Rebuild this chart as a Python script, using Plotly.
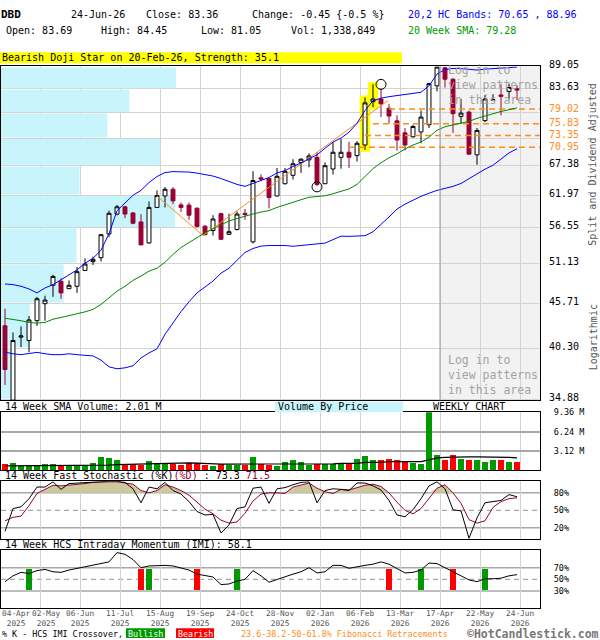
import math
import plotly.graph_objects as go

FONT = "DejaVu Sans Mono"

# ---------------- data (weekly, index 0 = week ending 04-Apr-2025) ----------------
weeks = list(range(65))

opens = [42.91, 34.80, 41.55, 41.16, 43.52, 45.66, 48.09, 48.63, 47.63, 47.96,
         50.15, 51.41, 51.98, 55.57, 58.78, 59.99, 58.95, 57.49, 54.19, 59.89,
         61.85, 63.03, 60.32, 60.28, 59.77, 56.80, 56.12, 58.85, 55.52, 56.28,
         58.90, 54.35, 65.10, 64.97, 61.85, 64.02, 65.56, 67.98, 68.48, 68.97,
         64.02, 66.74, 68.97, 69.96, 69.30, 71.41, 80.69, 81.29, 79.19, 76.44,
         73.89, 73.08, 74.09, 75.59, 84.36, 88.75, 85.94, 77.40, 78.34, 69.46,
         76.48, 81.00, 82.21, 83.05, 83.69]
highs = [45.02, 42.11, 42.83, 44.09, 46.55, 46.71, 49.53, 49.03, 48.76, 50.63,
         51.88, 52.13, 55.46, 59.33, 60.32, 60.16, 59.12, 58.78, 60.90, 62.83,
         63.42, 63.42, 60.73, 60.73, 59.84, 57.00, 58.59, 59.00, 58.85, 59.23,
         59.61, 66.30, 65.74, 64.97, 66.93, 66.93, 68.60, 68.80, 69.73, 69.96,
         67.98, 71.95, 72.61, 72.07, 72.21, 81.66, 84.76, 83.72, 80.18, 77.63,
         74.90, 75.59, 78.70, 85.00, 89.05, 88.93, 86.20, 81.29, 78.70, 74.90,
         82.21, 82.40, 84.76, 84.90, 84.45]
lows = [36.32, 34.78, 40.40, 39.83, 42.89, 43.52, 46.55, 46.30, 47.59, 47.07,
        50.07, 50.92, 51.41, 55.11, 58.59, 58.10, 57.12, 53.86, 54.07, 59.86,
        59.89, 60.44, 59.10, 57.84, 56.63, 55.35, 55.34, 54.70, 55.45, 56.12,
        57.84, 54.10, 64.49, 59.73, 61.80, 63.90, 64.79, 66.01, 67.06, 63.60,
        64.00, 65.69, 66.80, 66.93, 68.16, 70.43, 79.43, 77.25, 75.85, 70.29,
        70.29, 72.90, 71.75, 74.90, 83.05, 83.96, 73.87, 75.76, 69.50, 67.54,
        76.20, 80.90, 77.63, 81.20, 81.05]
closes = [37.93, 41.16, 41.70, 43.62, 46.30, 46.13, 49.31, 47.07, 48.09, 49.97,
          51.06, 51.74, 55.46, 58.90, 59.99, 58.78, 57.28, 53.89, 59.89, 61.92,
          63.03, 61.00, 59.89, 58.59, 56.75, 55.46, 57.97, 54.74, 55.93, 58.78,
          58.70, 64.61, 64.87, 61.58, 65.38, 66.30, 67.73, 68.60, 69.24, 63.90,
          67.36, 69.96, 69.96, 68.97, 71.75, 80.40, 81.29, 80.18, 77.47, 72.41,
          71.41, 75.24, 77.25, 84.90, 88.93, 85.94, 77.99, 78.12, 69.59, 74.40,
          81.29, 81.10, 81.90, 83.96, 83.36]

upper_band = [48.27, 48.18, 47.96, 47.60, 47.07, 47.73, 48.18, 48.84, 49.53, 50.22,
              51.17, 51.88, 53.09, 55.61, 59.33, 60.72, 61.98, 62.84, 64.25, 65.33,
              66.07, 66.25, 66.25, 66.16, 65.97, 65.69, 65.42, 64.97, 64.43, 63.90,
              63.55, 64.07, 64.61, 65.15, 66.01, 66.42, 67.22, 67.86, 68.68, 69.45,
              70.75, 72.00, 72.81, 74.04, 75.91, 78.69, 80.91, 81.47, 81.82, 82.04,
              82.27, 82.50, 82.84, 84.36, 87.21, 88.31, 88.61, 88.56, 88.31, 88.19,
              88.43, 88.61, 88.68, 88.80, 88.96]
lower_band = [39.84, 39.65, 39.55, 39.65, 39.81, 39.65, 39.55, 39.55, 39.65, 39.55,
              39.48, 39.41, 38.94, 38.22, 38.01, 38.11, 38.33, 39.19, 39.74, 40.21,
              41.89, 43.31, 44.65, 45.91, 47.07, 47.86, 48.67, 49.76, 50.46, 51.60,
              52.75, 53.34, 53.71, 53.79, 53.83, 53.79, 53.68, 53.79, 53.83, 53.94,
              54.16, 54.69, 55.23, 55.20, 55.23, 55.30, 55.92, 57.02, 58.30, 59.61,
              60.44, 61.11, 61.80, 62.33, 62.84, 63.19, 63.55, 64.07, 64.97, 65.88,
              66.71, 67.45, 68.68, 69.83, 70.65]
sma20 = [43.83, 43.71, 43.52, 43.31, 43.23, 43.31, 43.71, 43.92, 44.13, 44.32,
         44.62, 44.94, 45.57, 46.42, 47.30, 47.96, 48.76, 49.35, 50.04, 50.46,
         51.31, 52.46, 53.49, 54.24, 55.00, 55.76, 56.39, 57.02, 57.65, 58.05,
         58.46, 58.79, 59.11, 59.36, 59.89, 60.36, 60.78, 61.20, 61.63, 61.72,
         61.89, 62.24, 62.67, 63.10, 63.90, 65.33, 66.80, 67.93, 68.88, 69.65,
         70.62, 71.41, 72.00, 73.01, 74.44, 75.18, 75.59, 75.91, 76.33, 76.97,
         77.39, 77.98, 78.48, 78.92, 79.28]

volume_m = [0.95, 1.16, 0.68, 0.68, 0.68, 0.95, 0.95, 0.68, 0.68, 0.68,
            0.68, 1.16, 2.10, 1.89, 1.58, 1.05, 1.05, 0.84, 1.42, 1.10,
            1.10, 0.95, 0.84, 1.16, 1.16, 0.84, 0.74, 1.05, 0.79, 0.79,
            0.89, 2.05, 1.05, 0.89, 0.63, 1.26, 1.58, 1.26, 0.79, 1.05,
            1.05, 1.05, 1.05, 1.05, 1.73, 2.21, 1.58, 1.58, 1.73, 1.58,
            1.50, 1.10, 0.95, 9.36, 2.37, 1.63, 2.37, 1.73, 1.58, 1.58,
            1.31, 1.58, 1.58, 1.31, 1.34]
vol_sma14_m = [0.74, 0.74, 0.74, 0.74, 0.74, 0.74, 0.74, 0.74, 0.74, 0.74,
               0.74, 0.74, 0.80, 0.85, 0.92, 0.95, 1.00, 1.05, 1.10, 1.15,
               1.20, 1.20, 1.20, 1.20, 1.18, 1.10, 1.05, 1.02, 1.02, 1.02,
               1.02, 1.02, 1.02, 0.97, 0.97, 0.97, 0.97, 0.97, 1.05, 1.05,
               1.05, 1.05, 1.12, 1.12, 1.12, 1.28, 1.28, 1.28, 1.42, 1.42,
               1.42, 1.42, 1.42, 1.68, 2.00, 2.10, 2.16, 2.16, 2.16, 2.16,
               2.16, 2.16, 2.16, 2.10, 2.01]

stoch_k = [14, 53, 56, 70, 90, 90, 99, 86, 96, 97,
           97, 99, 100, 100, 100, 98, 87, 63, 90, 87,
           98, 84, 78, 65, 48, 42, 43, 11, 25, 53,
           56, 88, 90, 62, 87, 89, 94, 98, 99, 63,
           84, 87, 86, 84, 97, 97, 92, 85, 67, 42,
           39, 51, 70, 92, 99, 87, 51, 49, 2, 37,
           63, 65, 67, 77, 73.3]
stoch_d = [32, 38, 40, 58, 79, 86, 93, 92, 93, 94,
           96, 98, 99, 99, 99, 97, 95, 84, 80, 84,
           94, 90, 84, 76, 64, 52, 44, 33, 28, 30,
           45, 66, 78, 80, 80, 79, 90, 94, 97, 88,
           82, 79, 86, 85, 89, 93, 95, 91, 80, 64,
           50, 44, 53, 70, 88, 94, 80, 62, 34, 28,
           32, 55, 65, 70, 71.5]
imi = [46, 56, 62, 60, 65, 67, 63, 62, 66, 69,
       72, 74, 77, 80, 96, 93, 84, 70, 73, 74,
       74, 73, 70, 66, 59, 57, 54, 41, 42, 47,
       50, 65, 56, 45, 50, 55, 59, 63, 70, 61,
       63, 74, 74, 69, 72, 74, 76, 80, 76, 69,
       61, 62, 66, 78, 77, 70, 63, 57, 49, 46,
       51, 51, 52, 56, 58.1]
imi_bull_weeks = [3, 18, 29, 52, 60]
imi_bear_weeks = [17, 24, 48, 56]

fib_levels = [79.02, 75.83, 73.35, 70.95]
fib_start_weeks = [48, 46, 45, 43]
fib_swing_weeks = [19, 24.75, 47.9]
fib_swing_prices = [61.85, 55.34, 80.98]

pattern_weeks = [45, 46]
circle_weeks = [39, 47]
circle_prices = [63.46, 84.71]

price_ticks = [89.05, 83.63, 78.21, 72.79, 67.38, 61.97, 56.55, 51.13, 45.71, 40.30, 34.88]
price_tick_text = ["89.05", "83.63", "", "", "67.38", "61.97", "56.55", "51.13", "45.71", "40.30", "34.88"]
vbp_volume = [176, 129, 107, 160, 79, 175, 76, 63, 29, 10]   # relative, per price band (top to bottom)

grid_weeks = [4.375, 9.375, 14.375, 19.375, 24.375, 29.375, 34.375, 39.375,
              44.375, 49.375, 54.375, 59.375, 64.375]
label_weeks = [-0.5, 5.125] + grid_weeks[1:]
date_labels = ["04-Apr<br>2025", "02-May<br>2025", "06-Jun<br>2025", "11-Jul<br>2025",
               "15-Aug<br>2025", "19-Sep<br>2025", "24-Oct<br>2025", "28-Nov<br>2025",
               "02-Jan<br>2026", "06-Feb<br>2026", "13-Mar<br>2026", "17-Apr<br>2026",
               "22-May<br>2026", "24-Jun<br>2026"]
locked_from_week = 54.375

# ---------------- styles ----------------
W, H = 600, 640
XMIN, XMAX = -0.5, 66.875
PMIN, PMAX = 34.77, 89.17
RED_C = "#990033"
VG, VR = "#009900", "#ff0000"
BLUE = "#0000ff"
SMAG = "#008800"
ORANGE = "#ff8c1a"
VBPC = "#c8f4fc"
GRID = "#d3d3d3"
GRID2 = "#a8a8a8"
L = math.log10


def fy(px):
    return 1 - px / H


def fx(px):
    return px / W


fig = go.Figure()

# --- background layer (base subplot x/y, y in log10 units): volume by price + highlights ---
gap = math.exp(0.8 / 360)
vmax = max(vbp_volume)
span = 175 / 8.0
vx, vy = [], []
for k, v in enumerate(vbp_volume):
    hi = L(price_ticks[k] / gap)
    lo = L(price_ticks[k + 1] * gap)
    xr = XMIN + v / vmax * span
    vx += [XMIN, xr, xr, XMIN, XMIN, None]
    vy += [lo, lo, hi, hi, lo, None]
fig.add_trace(go.Scatter(x=vx, y=vy, mode="lines", fill="toself", fillcolor=VBPC,
                         line=dict(width=0), xaxis="x", yaxis="y", hoverinfo="skip"))

pad = math.exp(2.0 / 360)
hx, hy = [], []
for w in pattern_weeks:
    lo, hi = L(lows[w] / pad), L(highs[w] * pad)
    hx += [w - 0.65, w + 0.65, w + 0.65, w - 0.65, w - 0.65, None]
    hy += [lo, lo, hi, hi, lo, None]
fig.add_trace(go.Scatter(x=hx, y=hy, mode="lines", fill="toself", fillcolor="#ffff00",
                         line=dict(width=0), xaxis="x", yaxis="y", hoverinfo="skip"))

# --- price layer (overlay log axis y5) ---
for lvl, st in zip(fib_levels, fib_start_weeks):
    fig.add_trace(go.Scatter(x=[st, XMAX], y=[lvl, lvl], mode="lines",
                             line=dict(color=ORANGE, width=1.5, dash="6px,4px"),
                             xaxis="x", yaxis="y5", hoverinfo="skip"))
fig.add_trace(go.Scatter(x=fib_swing_weeks, y=fib_swing_prices, mode="lines",
                         line=dict(color=ORANGE, width=1), xaxis="x", yaxis="y5"))
fig.add_trace(go.Scatter(x=weeks, y=upper_band, mode="lines", line=dict(color=BLUE, width=1),
                         xaxis="x", yaxis="y5"))
fig.add_trace(go.Scatter(x=weeks, y=lower_band, mode="lines", line=dict(color=BLUE, width=1),
                         xaxis="x", yaxis="y5"))
fig.add_trace(go.Scatter(x=weeks, y=sma20, mode="lines", line=dict(color=SMAG, width=1),
                         xaxis="x", yaxis="y5"))
fig.add_trace(go.Candlestick(x=weeks, open=opens, high=highs, low=lows, close=closes,
                             increasing=dict(line=dict(color="black", width=1), fillcolor="white"),
                             decreasing=dict(line=dict(color=RED_C, width=1), fillcolor=RED_C),
                             whiskerwidth=0, xaxis="x", yaxis="y5"))
fig.add_trace(go.Scatter(x=circle_weeks, y=circle_prices, mode="markers",
                         marker=dict(symbol="circle-open", size=10, color="black",
                                     line=dict(width=1, color="black")),
                         xaxis="x", yaxis="y5"))

# volume
vcols = [VG if c >= o else VR for o, c in zip(opens, closes)]
fig.add_trace(go.Bar(x=weeks, y=volume_m, marker=dict(color=vcols, line=dict(width=0)),
                     width=0.68, xaxis="x2", yaxis="y2"))
fig.add_trace(go.Scatter(x=weeks, y=vol_sma14_m, mode="lines", line=dict(color="black", width=1.2),
                         xaxis="x2", yaxis="y2"))

# stochastic
fig.add_trace(go.Scatter(x=weeks, y=[80] * len(weeks), mode="lines", line=dict(width=0),
                         xaxis="x3", yaxis="y3", hoverinfo="skip"))
fig.add_trace(go.Scatter(x=weeks, y=[max(d, 80) for d in stoch_d], mode="lines",
                         line=dict(width=0), fill="tonexty", fillcolor="#cdc99c",
                         xaxis="x3", yaxis="y3", hoverinfo="skip"))
fig.add_trace(go.Scatter(x=weeks, y=stoch_d, mode="lines", line=dict(color=RED_C, width=1),
                         xaxis="x3", yaxis="y3"))
fig.add_trace(go.Scatter(x=weeks, y=stoch_k, mode="lines", line=dict(color="black", width=1),
                         xaxis="x3", yaxis="y3"))

# IMI
fig.add_trace(go.Bar(x=imi_bull_weeks, y=[35] * len(imi_bull_weeks), base=32, width=0.75,
                     marker=dict(color=VG, line=dict(width=0)), xaxis="x4", yaxis="y4"))
fig.add_trace(go.Bar(x=imi_bear_weeks, y=[35] * len(imi_bear_weeks), base=32, width=0.75,
                     marker=dict(color=VR, line=dict(width=0)), xaxis="x4", yaxis="y4"))
fig.add_trace(go.Scatter(x=weeks, y=imi, mode="lines", line=dict(color="black", width=1),
                         xaxis="x4", yaxis="y4"))

# ---------------- axes ----------------
xdom = [fx(1), fx(540)]
common_x = dict(range=[XMIN, XMAX], tickvals=grid_weeks, showticklabels=False, showgrid=True,
                gridcolor=GRID, gridwidth=1, zeroline=False, showline=True, mirror=True,
                linecolor="black", linewidth=1, ticks="", fixedrange=True, domain=xdom)
common_y = dict(side="right", showline=True, mirror=True, linecolor="black", linewidth=1,
                zeroline=False, ticks="outside", tickcolor="rgba(0,0,0,0)", fixedrange=True,
                tickfont=dict(family=FONT, size=10, color="black"))

main_dom = [fy(399), fy(60)]
vol_dom = [fy(470), fy(411)]
sto_dom = [fy(540), fy(481)]
imi_dom = [fy(610), fy(551)]

fig.update_layout(
    width=W, height=H, margin=dict(l=0, r=0, t=0, b=0),
    paper_bgcolor="white", plot_bgcolor="white", showlegend=False,
    bargap=0, barmode="overlay",
    xaxis=dict(common_x, anchor="y", rangeslider=dict(visible=False)),
    xaxis2=dict(common_x, anchor="y2"),
    xaxis3=dict(common_x, anchor="y3"),
    xaxis4=dict(common_x, anchor="y4"),
    yaxis=dict(domain=main_dom, anchor="x", range=[L(PMIN), L(PMAX)], visible=False,
               showgrid=False, zeroline=False, fixedrange=True),
    yaxis5=dict(common_y, overlaying="y", anchor="x", type="log",
                range=[L(PMIN), L(PMAX)],
                tickvals=price_ticks, ticktext=price_tick_text, ticklen=6,
                ticklabelshift=-2,
                showgrid=True, gridcolor=GRID),
    yaxis2=dict(common_y, domain=vol_dom, anchor="x2", range=[0, 9.36],
                tickvals=[3.12, 6.24, 9.36], ticktext=["3.12 M", "6.24 M", "9.36 M"],
                ticklen=11, showgrid=True, gridcolor=GRID2, gridwidth=1.5,
                tickfont=dict(family=FONT, size=8.5, color="black")),
    yaxis3=dict(common_y, domain=sto_dom, anchor="x3", range=[0, 100],
                tickvals=[20, 50, 80], ticktext=["20%", "50%", "80%"], ticklen=11,
                showgrid=False, tickfont=dict(family=FONT, size=8.5, color="black")),
    yaxis4=dict(common_y, domain=imi_dom, anchor="x4", range=[0, 100],
                tickvals=[30, 50, 70], ticktext=["30%", "50%", "70%"], ticklen=11,
                showgrid=False, tickfont=dict(family=FONT, size=8.5, color="black")),
)

shapes = []
shapes.append(dict(type="rect", xref="x", yref="y domain", x0=locked_from_week, x1=XMAX, y0=0, y1=1,
                   fillcolor="#f2f2f2", line=dict(width=0), layer="below"))
shapes.append(dict(type="line", xref="x", yref="y domain", x0=locked_from_week, x1=locked_from_week,
                   y0=0, y1=1, line=dict(color="#999999", width=1), layer="above"))
for ax, solid, dashed in (("3", (20, 80), 50), ("4", (30, 70), 50)):
    for v in solid:
        shapes.append(dict(type="line", xref="x%s domain" % ax, yref="y%s" % ax, x0=0, x1=1,
                           y0=v, y1=v, line=dict(color=GRID2, width=1.5), layer="below"))
    shapes.append(dict(type="line", xref="x%s domain" % ax, yref="y%s" % ax, x0=0, x1=1,
                       y0=dashed, y1=dashed, line=dict(color=GRID2, width=1.2, dash="5px,4px"),
                       layer="below"))
shapes.append(dict(type="rect", xref="paper", yref="paper", x0=0, x1=fx(402), y0=fy(57), y1=fy(46),
                   fillcolor="#ffff00", line=dict(width=0)))
shapes.append(dict(type="rect", xref="paper", yref="paper", x0=fx(275), x1=fx(403), y0=fy(411), y1=fy(400),
                   fillcolor=VBPC, line=dict(width=0)))
shapes.append(dict(type="rect", xref="paper", yref="paper", x0=fx(126), x1=fx(165), y0=fy(640), y1=fy(630),
                   fillcolor=VG, line=dict(width=0)))
shapes.append(dict(type="rect", xref="paper", yref="paper", x0=fx(176), x1=fx(214), y0=fy(640), y1=fy(630),
                   fillcolor=VR, line=dict(width=0)))
fig.update_layout(shapes=shapes)


def txt(text, xp, yp, size=10, color="black", anchor="left", yanchor="middle", **kw):
    fig.add_annotation(text=text, x=fx(xp), y=fy(yp), xref="paper", yref="paper",
                       xanchor=anchor, yanchor=yanchor, showarrow=False, borderpad=0,
                       font=dict(family=FONT, size=size, color=color), **kw)


# header
txt("<b>DBD</b>", 0, 8, size=11)
txt("24-Jun-26", 70, 8)
txt("Close: 83.36", 145, 8)
txt("Change: -0.45 {-0.5 %}", 251, 8)
txt("Open: 83.69", 5, 23.5)
txt("High: 84.45", 100, 23.5)
txt("Low: 81.05", 200, 23.5)
txt("Vol: 1,338,849", 290, 23.5)
txt("20,2 HC Bands: 70.65 , 88.96", 407, 8, color=BLUE)
txt("20 Week SMA: 79.28", 407, 23.5, color="#009900")
txt("Bearish Doji Star on 20-Feb-26, Strength: 35.1", 1, 51.5)

# panel titles
txt("14 Week SMA Volume: 2.01 M", 4, 405.5)
txt("Volume By Price", 277, 405.5)
txt("WEEKLY CHART", 432, 405.5)
txt("14 Week Fast Stochastic (%K)<span style='color:#990033'>(%D)</span> : 73.3 "
    "<span style='color:#990033'>71.5</span>", 4, 475.5)
txt("14 Week HCS Intraday Momentum (IMI): 58.1", 4, 545.5)

# side notes
txt("Split and Dividend Adjusted", 593, 160, color="#555555", anchor="center", textangle=-90)
txt("Logarithmic", 593, 335, color="#555555", anchor="center", textangle=-90)

# locked-area notes
txt("Log in to<br>view patterns<br>in this area", 447, 56, size=11.5, color="#a3a3a3",
    yanchor="top", align="left")
txt("Log in to<br>view patterns<br>in this area", 447, 350, size=11.5, color="#a3a3a3",
    yanchor="top", align="left")

# fib labels
for lvl in fib_levels:
    fig.add_annotation(text="%.2f" % lvl, x=fx(548), y=L(lvl), xref="paper", yref="y5",
                       xanchor="left", yanchor="middle", showarrow=False, yshift=1, borderpad=0,
                       font=dict(family=FONT, size=10, color=ORANGE))

# date labels
for i, (w, lab) in enumerate(zip(label_weeks, date_labels)):
    fig.add_annotation(text=lab, x=w, y=fy(609.5), xref="x4", yref="paper", borderpad=0,
                       xanchor="left" if i == 0 else "center", yanchor="top", showarrow=False,
                       font=dict(family=FONT, size=7.8, color="#555555"))

# footer
txt("% K - HCS IMI Crossover,", 1, 635.5, size=8.4)
txt("Bullish", 145.5, 635.5, size=8.4, color="white", anchor="center")
txt("Bearish", 195, 635.5, size=8.4, color="white", anchor="center")
txt("23.6-38.2-50-61.8% Fibonacci Retracements", 240, 635.5, size=8.4, color=ORANGE)
txt("<b>\u00a9HotCandlestick.com</b>", 600, 635.5, size=11.5, color="#777777", anchor="right")

fig.write_html("out.html", config={"displayModeBar": False},
               post_script="document.body.style.margin='0px';")
